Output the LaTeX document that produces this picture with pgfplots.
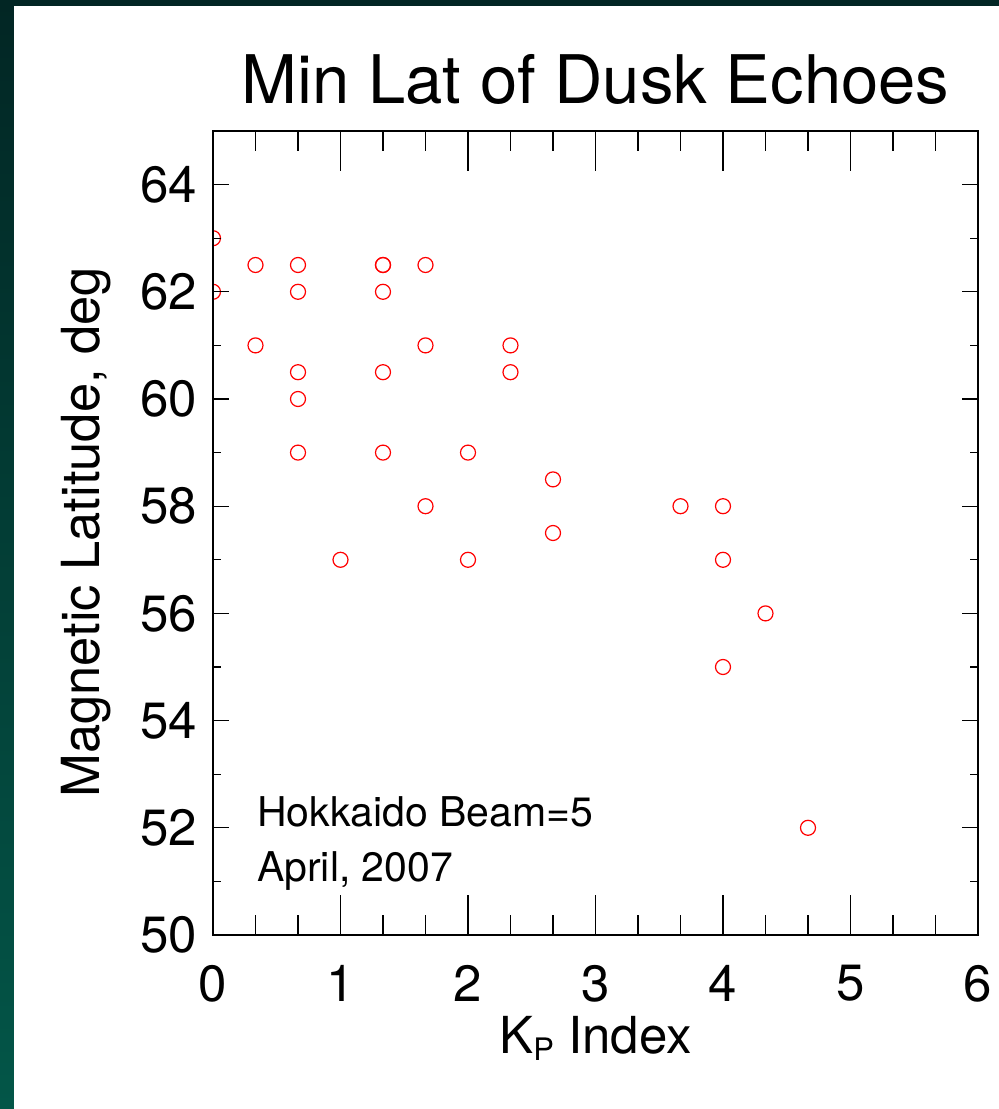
\documentclass[border=0pt]{standalone}
\usepackage{pgfplots}
\pgfplotsset{compat=1.18}
\usepackage{fontspec}
\setmainfont{TeX Gyre Heros}
\pgfplotsset{
  panel/.style={
    at={(213pt,174pt)}, anchor=south west,
    scale only axis, width=765pt, height=804pt,
    xmin=0, xmax=6, ymin=50, ymax=65,
    xtick={0,1,...,6}, ytick={50,52,...,64},
    minor x tick num=2, minor y tick num=1,
    tick align=inside, xtick pos=both, ytick pos=both,
    axis line style={line width=1.6pt},
    every tick/.style={black, line width=1.3pt},
  },
}
\begin{document}
\begin{tikzpicture}[x=1pt,y=1pt]
% slide background with the white panel on top
\shade[top color={rgb,255:red,2;green,38;blue,36}, bottom color={rgb,255:red,3;green,86;blue,72}]
  (0,0) rectangle (999,1109);
\fill[white] (14,0) rectangle (999,1103);
% main axis: data, labels and the long x ticks
\begin{axis}[
  panel,
  major tick length=40pt, minor tick length=20pt,
  y tick style={draw=none},
  /pgf/number format/assume math mode=true,
  tick label style={font=\fontsize{51}{51}\selectfont, inner sep=0pt},
  xticklabel style={anchor=north, yshift=-30pt},
  yticklabel style={anchor=east, xshift=-16pt},
  clip marker paths=true,
  every axis title/.style={at={(axis description cs:0.5,1.0348)}, anchor=base,
    font=\fontsize{67}{67}\selectfont},
  every axis x label/.style={at={(axis description cs:0.5,-0.1468)}, anchor=base,
    font=\fontsize{51}{51}\selectfont},
  every axis y label/.style={at={(axis description cs:-0.1490,0.501)}, anchor=base, rotate=90,
    font=\fontsize{52.5}{52.5}\selectfont},
  title={Min Lat of Dusk Echoes},
  xlabel={K\raisebox{-7pt}{\fontsize{31}{31}\selectfont P} Index},
  ylabel={Magnetic Latitude, deg},
]
\addplot[only marks, mark=o, mark size=7.5pt, color=red, mark options={line width=1.2pt}]
  table {
x y
0 63
0 62
0.3333 62.5
0.3333 61
0.6667 62.5
0.6667 62
0.6667 60.5
0.6667 60
0.6667 59
1 57
1.3333 62.5
1.3333 62.5
1.3333 62
1.3333 60.5
1.3333 59
1.6667 62.5
1.6667 61
1.6667 58
2 59
2 57
2.3333 61
2.3333 60.5
2.6667 58.5
2.6667 57.5
3.6667 58
4 58
4 57
4 55
4.3333 56
4.6667 52
};
\node[anchor=base west, inner sep=0pt, font=\fontsize{41}{41}\selectfont]
  at (axis cs:0.345,52.02) {Hokkaido Beam=5};
\node[anchor=base west, inner sep=0pt, font=\fontsize{41}{41}\selectfont]
  at (axis cs:0.345,50.99) {April, 2007};
\end{axis}
% same frame again, carrying the shorter y ticks
\begin{axis}[
  panel,
  major tick length=16pt, minor tick length=8pt,
  x tick style={draw=none},
  xticklabels={}, yticklabels={},
]
\end{axis}
\end{tikzpicture}
\end{document}
